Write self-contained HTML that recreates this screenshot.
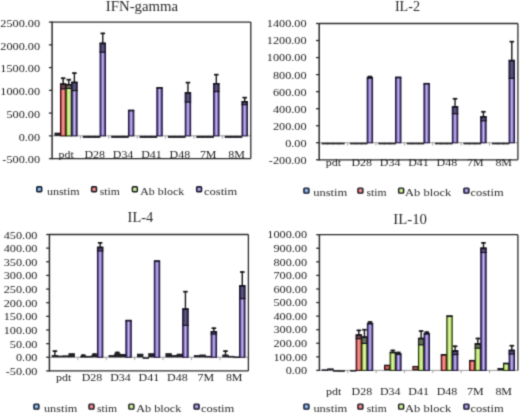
<!DOCTYPE html><html><head><meta charset="utf-8"><style>html,body{margin:0;padding:0;background:#fff;}body{width:520px;height:414px;overflow:hidden;}svg{display:block;}</style></head><body>
<svg width="520" height="414" viewBox="0 0 520 414" font-family='"Liberation Serif", serif'>
<defs>
<linearGradient id="gu" x1="0" x2="1" y1="0" y2="0"><stop offset="0" stop-color="#1a3560"/><stop offset="0.22" stop-color="#4a80c8"/><stop offset="0.5" stop-color="#b8d4f4"/><stop offset="0.78" stop-color="#4a80c8"/><stop offset="1" stop-color="#1a3560"/></linearGradient>
<radialGradient id="ru"><stop offset="0" stop-color="#b8d4f4"/><stop offset="1" stop-color="#4a80c8"/></radialGradient>
<linearGradient id="gs" x1="0" x2="1" y1="0" y2="0"><stop offset="0" stop-color="#8a2424"/><stop offset="0.22" stop-color="#d05454"/><stop offset="0.5" stop-color="#f8aca8"/><stop offset="0.78" stop-color="#d05454"/><stop offset="1" stop-color="#8a2424"/></linearGradient>
<radialGradient id="rs"><stop offset="0" stop-color="#f8aca8"/><stop offset="1" stop-color="#d05454"/></radialGradient>
<linearGradient id="ga" x1="0" x2="1" y1="0" y2="0"><stop offset="0" stop-color="#6a9028"/><stop offset="0.22" stop-color="#a8d460"/><stop offset="0.5" stop-color="#e8fcb4"/><stop offset="0.78" stop-color="#a8d460"/><stop offset="1" stop-color="#6a9028"/></linearGradient>
<radialGradient id="ra"><stop offset="0" stop-color="#e8fcb4"/><stop offset="1" stop-color="#a8d460"/></radialGradient>
<linearGradient id="gc" x1="0" x2="1" y1="0" y2="0"><stop offset="0" stop-color="#33265c"/><stop offset="0.22" stop-color="#6c58aa"/><stop offset="0.5" stop-color="#d0c4f2"/><stop offset="0.78" stop-color="#6c58aa"/><stop offset="1" stop-color="#33265c"/></linearGradient>
<radialGradient id="rc"><stop offset="0" stop-color="#d0c4f2"/><stop offset="1" stop-color="#6c58aa"/></radialGradient>
<filter id="soft" x="0" y="0" width="520" height="414" filterUnits="userSpaceOnUse" color-interpolation-filters="sRGB"><feConvolveMatrix order="3" kernelMatrix="1 4 1 4 16 4 1 4 1" divisor="36" edgeMode="duplicate"/></filter>
</defs>
<g filter="url(#soft)">
<rect width="520" height="414" fill="#fff"/>
<text x="105.80" y="10.7" font-size="14.2" textLength="72.30" lengthAdjust="spacingAndGlyphs" fill="#2a2a2a">IFN-gamma</text>
<text x="40.1" y="163.30" font-size="10.6" text-anchor="end" textLength="37.74" lengthAdjust="spacingAndGlyphs" fill="#222">-500.00</text>
<line x1="48.9" x2="52.1" y1="158.60" y2="158.60" stroke="#2b2b2b" stroke-width="1.3"/>
<text x="40.1" y="140.55" font-size="10.6" text-anchor="end" textLength="21.43" lengthAdjust="spacingAndGlyphs" fill="#222">0.00</text>
<line x1="48.9" x2="52.1" y1="135.85" y2="135.85" stroke="#2b2b2b" stroke-width="1.3"/>
<text x="40.1" y="117.80" font-size="10.6" text-anchor="end" textLength="33.67" lengthAdjust="spacingAndGlyphs" fill="#222">500.00</text>
<line x1="48.9" x2="52.1" y1="113.10" y2="113.10" stroke="#2b2b2b" stroke-width="1.3"/>
<text x="40.1" y="95.05" font-size="10.6" text-anchor="end" textLength="39.79" lengthAdjust="spacingAndGlyphs" fill="#222">1000.00</text>
<line x1="48.9" x2="52.1" y1="90.35" y2="90.35" stroke="#2b2b2b" stroke-width="1.3"/>
<text x="40.1" y="72.30" font-size="10.6" text-anchor="end" textLength="39.79" lengthAdjust="spacingAndGlyphs" fill="#222">1500.00</text>
<line x1="48.9" x2="52.1" y1="67.60" y2="67.60" stroke="#2b2b2b" stroke-width="1.3"/>
<text x="40.1" y="49.55" font-size="10.6" text-anchor="end" textLength="39.79" lengthAdjust="spacingAndGlyphs" fill="#222">2000.00</text>
<line x1="48.9" x2="52.1" y1="44.85" y2="44.85" stroke="#2b2b2b" stroke-width="1.3"/>
<text x="40.1" y="26.80" font-size="10.6" text-anchor="end" textLength="39.79" lengthAdjust="spacingAndGlyphs" fill="#222">2500.00</text>
<line x1="48.9" x2="52.1" y1="22.10" y2="22.10" stroke="#2b2b2b" stroke-width="1.3"/>
<line x1="52.1" x2="250.8" y1="135.85" y2="135.85" stroke="#9a9a9a" stroke-width="1"/>
<line x1="80.49" x2="80.49" y1="135.85" y2="138.65" stroke="#9a9a9a" stroke-width="0.9"/>
<line x1="108.87" x2="108.87" y1="135.85" y2="138.65" stroke="#9a9a9a" stroke-width="0.9"/>
<line x1="137.26" x2="137.26" y1="135.85" y2="138.65" stroke="#9a9a9a" stroke-width="0.9"/>
<line x1="165.64" x2="165.64" y1="135.85" y2="138.65" stroke="#9a9a9a" stroke-width="0.9"/>
<line x1="194.03" x2="194.03" y1="135.85" y2="138.65" stroke="#9a9a9a" stroke-width="0.9"/>
<line x1="222.41" x2="222.41" y1="135.85" y2="138.65" stroke="#9a9a9a" stroke-width="0.9"/>
<rect x="54.39" y="132.66" width="6.40" height="3.19" fill="#1e1e24"/>
<rect x="60.49" y="83.98" width="5.40" height="51.87" fill="url(#gs)" stroke="#300808" stroke-width="1.0"/>
<rect x="59.99" y="83.48" width="6.40" height="5.92" fill="#1e1a2c" fill-opacity="0.58"/>
<line x1="59.99" x2="66.39" y1="88.89" y2="88.89" stroke="#15121e" stroke-width="1.1"/>
<line x1="60.19" x2="66.19" y1="84.28" y2="84.28" stroke="#15121e" stroke-width="1.6"/>
<line x1="63.19" x2="63.19" y1="77.56" y2="83.98" stroke="#151515" stroke-width="1.4"/>
<line x1="60.89" x2="65.49" y1="78.26" y2="78.26" stroke="#151515" stroke-width="1.7"/>
<rect x="66.09" y="84.48" width="5.40" height="51.37" fill="url(#ga)" stroke="#202c08" stroke-width="1.0"/>
<rect x="65.59" y="83.98" width="6.40" height="5.00" fill="#1e1a2c" fill-opacity="0.58"/>
<line x1="65.59" x2="71.99" y1="88.48" y2="88.48" stroke="#15121e" stroke-width="1.1"/>
<line x1="65.79" x2="71.79" y1="84.78" y2="84.78" stroke="#15121e" stroke-width="1.6"/>
<line x1="68.79" x2="68.79" y1="78.97" y2="84.48" stroke="#151515" stroke-width="1.4"/>
<line x1="66.49" x2="71.09" y1="79.67" y2="79.67" stroke="#151515" stroke-width="1.7"/>
<rect x="71.69" y="82.25" width="5.40" height="53.60" fill="url(#gc)" stroke="#1a1236" stroke-width="1.0"/>
<rect x="71.19" y="81.75" width="6.40" height="9.33" fill="#1e1a2c" fill-opacity="0.58"/>
<line x1="71.19" x2="77.59" y1="90.58" y2="90.58" stroke="#15121e" stroke-width="1.1"/>
<line x1="71.39" x2="77.39" y1="82.55" y2="82.55" stroke="#15121e" stroke-width="1.6"/>
<line x1="74.39" x2="74.39" y1="72.42" y2="82.25" stroke="#151515" stroke-width="1.4"/>
<line x1="72.09" x2="76.69" y1="73.12" y2="73.12" stroke="#151515" stroke-width="1.7"/>
<rect x="82.78" y="135.85" width="6.40" height="2.05" fill="#1e1e24"/>
<rect x="88.38" y="135.85" width="6.40" height="2.05" fill="#1e1e24"/>
<rect x="93.98" y="135.85" width="6.40" height="2.05" fill="#1e1e24"/>
<rect x="100.08" y="43.21" width="5.40" height="92.64" fill="url(#gc)" stroke="#1a1236" stroke-width="1.0"/>
<rect x="99.58" y="42.71" width="6.40" height="10.01" fill="#1e1a2c" fill-opacity="0.58"/>
<line x1="99.58" x2="105.98" y1="52.22" y2="52.22" stroke="#15121e" stroke-width="1.1"/>
<line x1="99.78" x2="105.78" y1="43.51" y2="43.51" stroke="#15121e" stroke-width="1.6"/>
<line x1="102.78" x2="102.78" y1="32.70" y2="43.21" stroke="#151515" stroke-width="1.4"/>
<line x1="100.48" x2="105.08" y1="33.40" y2="33.40" stroke="#151515" stroke-width="1.7"/>
<rect x="111.16" y="135.85" width="6.40" height="2.05" fill="#1e1e24"/>
<rect x="116.76" y="135.85" width="6.40" height="2.05" fill="#1e1e24"/>
<rect x="122.36" y="135.85" width="6.40" height="2.05" fill="#1e1e24"/>
<rect x="128.46" y="110.28" width="5.40" height="25.57" fill="url(#gc)" stroke="#1a1236" stroke-width="1.0"/>
<line x1="128.16" x2="134.16" y1="110.58" y2="110.58" stroke="#15121e" stroke-width="1.6"/>
<rect x="139.55" y="135.85" width="6.40" height="2.05" fill="#1e1e24"/>
<rect x="145.15" y="135.85" width="6.40" height="2.05" fill="#1e1e24"/>
<rect x="150.75" y="135.85" width="6.40" height="2.05" fill="#1e1e24"/>
<rect x="156.85" y="87.66" width="5.40" height="48.19" fill="url(#gc)" stroke="#1a1236" stroke-width="1.0"/>
<line x1="156.55" x2="162.55" y1="87.96" y2="87.96" stroke="#15121e" stroke-width="1.6"/>
<rect x="167.94" y="135.85" width="6.40" height="2.05" fill="#1e1e24"/>
<rect x="173.54" y="135.85" width="6.40" height="2.05" fill="#1e1e24"/>
<rect x="179.14" y="135.85" width="6.40" height="2.05" fill="#1e1e24"/>
<rect x="185.24" y="92.72" width="5.40" height="43.13" fill="url(#gc)" stroke="#1a1236" stroke-width="1.0"/>
<rect x="184.74" y="92.22" width="6.40" height="10.33" fill="#1e1a2c" fill-opacity="0.58"/>
<line x1="184.74" x2="191.14" y1="102.04" y2="102.04" stroke="#15121e" stroke-width="1.1"/>
<line x1="184.94" x2="190.94" y1="93.02" y2="93.02" stroke="#15121e" stroke-width="1.6"/>
<line x1="187.94" x2="187.94" y1="81.89" y2="92.72" stroke="#151515" stroke-width="1.4"/>
<line x1="185.64" x2="190.24" y1="82.59" y2="82.59" stroke="#151515" stroke-width="1.7"/>
<rect x="196.32" y="135.85" width="6.40" height="2.05" fill="#1e1e24"/>
<rect x="201.92" y="135.85" width="6.40" height="2.05" fill="#1e1e24"/>
<rect x="207.52" y="135.85" width="6.40" height="2.05" fill="#1e1e24"/>
<rect x="213.62" y="83.52" width="5.40" height="52.33" fill="url(#gc)" stroke="#1a1236" stroke-width="1.0"/>
<rect x="213.12" y="83.02" width="6.40" height="9.05" fill="#1e1a2c" fill-opacity="0.58"/>
<line x1="213.12" x2="219.52" y1="91.58" y2="91.58" stroke="#15121e" stroke-width="1.1"/>
<line x1="213.32" x2="219.32" y1="83.82" y2="83.82" stroke="#15121e" stroke-width="1.6"/>
<line x1="216.32" x2="216.32" y1="73.97" y2="83.52" stroke="#151515" stroke-width="1.4"/>
<line x1="214.02" x2="218.62" y1="74.67" y2="74.67" stroke="#151515" stroke-width="1.7"/>
<rect x="224.71" y="135.85" width="6.40" height="2.05" fill="#1e1e24"/>
<rect x="230.31" y="135.85" width="6.40" height="2.05" fill="#1e1e24"/>
<rect x="235.91" y="135.85" width="6.40" height="2.05" fill="#1e1e24"/>
<rect x="242.01" y="101.54" width="5.40" height="34.31" fill="url(#gc)" stroke="#1a1236" stroke-width="1.0"/>
<rect x="241.51" y="101.04" width="6.40" height="4.09" fill="#1e1a2c" fill-opacity="0.58"/>
<line x1="241.51" x2="247.91" y1="104.64" y2="104.64" stroke="#15121e" stroke-width="1.1"/>
<line x1="241.71" x2="247.71" y1="101.84" y2="101.84" stroke="#15121e" stroke-width="1.6"/>
<line x1="244.71" x2="244.71" y1="96.95" y2="101.54" stroke="#151515" stroke-width="1.4"/>
<line x1="242.41" x2="247.01" y1="97.65" y2="97.65" stroke="#151515" stroke-width="1.7"/>
<line x1="52.1" x2="52.1" y1="21.5" y2="159.2" stroke="#2b2b2b" stroke-width="1.5"/>
<line x1="52.1" x2="250.8" y1="22.1" y2="22.1" stroke="#2b2b2b" stroke-width="1.3"/>
<line x1="250.8" x2="250.8" y1="22.1" y2="158.6" stroke="#2b2b2b" stroke-width="1.3"/>
<line x1="52.1" x2="250.8" y1="158.6" y2="158.6" stroke="#2b2b2b" stroke-width="1.3"/>
<text x="66.29" y="158.0" font-size="10.5" text-anchor="middle" textLength="15.30" lengthAdjust="spacingAndGlyphs" fill="#222">pdt</text>
<text x="94.68" y="158.0" font-size="10.5" text-anchor="middle" textLength="20.61" lengthAdjust="spacingAndGlyphs" fill="#222">D28</text>
<text x="123.06" y="158.0" font-size="10.5" text-anchor="middle" textLength="20.61" lengthAdjust="spacingAndGlyphs" fill="#222">D34</text>
<text x="151.45" y="158.0" font-size="10.5" text-anchor="middle" textLength="20.61" lengthAdjust="spacingAndGlyphs" fill="#222">D41</text>
<text x="179.84" y="158.0" font-size="10.5" text-anchor="middle" textLength="20.61" lengthAdjust="spacingAndGlyphs" fill="#222">D48</text>
<text x="208.22" y="158.0" font-size="10.5" text-anchor="middle" textLength="16.63" lengthAdjust="spacingAndGlyphs" fill="#222">7M</text>
<text x="236.61" y="158.0" font-size="10.5" text-anchor="middle" textLength="16.63" lengthAdjust="spacingAndGlyphs" fill="#222">8M</text>
<rect x="36.75" y="186.75" width="5.0" height="5.0" rx="0.9" fill="url(#ru)" stroke="#141826" stroke-width="1.4"/>
<text x="46.90" y="194.5" font-size="11" textLength="32.70" lengthAdjust="spacingAndGlyphs" fill="#2a2a2a">unstim</text>
<rect x="91.55" y="186.75" width="5.0" height="5.0" rx="0.9" fill="url(#rs)" stroke="#141826" stroke-width="1.4"/>
<text x="99.80" y="194.5" font-size="11" textLength="20.00" lengthAdjust="spacingAndGlyphs" fill="#2a2a2a">stim</text>
<rect x="132.35" y="186.75" width="5.0" height="5.0" rx="0.9" fill="url(#ra)" stroke="#141826" stroke-width="1.4"/>
<text x="140.20" y="194.5" font-size="11" textLength="44.00" lengthAdjust="spacingAndGlyphs" fill="#2a2a2a">Ab block</text>
<rect x="196.60" y="186.75" width="5.0" height="5.0" rx="0.9" fill="url(#rc)" stroke="#141826" stroke-width="1.4"/>
<text x="204.00" y="194.5" font-size="11" textLength="33.30" lengthAdjust="spacingAndGlyphs" fill="#2a2a2a">costim</text>
<text x="394.90" y="10.7" font-size="14.2" textLength="25.20" lengthAdjust="spacingAndGlyphs" fill="#2a2a2a">IL-2</text>
<text x="306.6" y="163.70" font-size="10.6" text-anchor="end" textLength="37.74" lengthAdjust="spacingAndGlyphs" fill="#222">-200.00</text>
<line x1="316.0" x2="319.2" y1="159.80" y2="159.80" stroke="#2b2b2b" stroke-width="1.3"/>
<text x="306.6" y="146.66" font-size="10.6" text-anchor="end" textLength="21.43" lengthAdjust="spacingAndGlyphs" fill="#222">0.00</text>
<line x1="316.0" x2="319.2" y1="142.76" y2="142.76" stroke="#2b2b2b" stroke-width="1.3"/>
<text x="306.6" y="129.63" font-size="10.6" text-anchor="end" textLength="33.67" lengthAdjust="spacingAndGlyphs" fill="#222">200.00</text>
<line x1="316.0" x2="319.2" y1="125.73" y2="125.73" stroke="#2b2b2b" stroke-width="1.3"/>
<text x="306.6" y="112.59" font-size="10.6" text-anchor="end" textLength="33.67" lengthAdjust="spacingAndGlyphs" fill="#222">400.00</text>
<line x1="316.0" x2="319.2" y1="108.69" y2="108.69" stroke="#2b2b2b" stroke-width="1.3"/>
<text x="306.6" y="95.55" font-size="10.6" text-anchor="end" textLength="33.67" lengthAdjust="spacingAndGlyphs" fill="#222">600.00</text>
<line x1="316.0" x2="319.2" y1="91.65" y2="91.65" stroke="#2b2b2b" stroke-width="1.3"/>
<text x="306.6" y="78.51" font-size="10.6" text-anchor="end" textLength="33.67" lengthAdjust="spacingAndGlyphs" fill="#222">800.00</text>
<line x1="316.0" x2="319.2" y1="74.61" y2="74.61" stroke="#2b2b2b" stroke-width="1.3"/>
<text x="306.6" y="61.48" font-size="10.6" text-anchor="end" textLength="39.79" lengthAdjust="spacingAndGlyphs" fill="#222">1000.00</text>
<line x1="316.0" x2="319.2" y1="57.58" y2="57.58" stroke="#2b2b2b" stroke-width="1.3"/>
<text x="306.6" y="44.44" font-size="10.6" text-anchor="end" textLength="39.79" lengthAdjust="spacingAndGlyphs" fill="#222">1200.00</text>
<line x1="316.0" x2="319.2" y1="40.54" y2="40.54" stroke="#2b2b2b" stroke-width="1.3"/>
<text x="306.6" y="27.40" font-size="10.6" text-anchor="end" textLength="39.79" lengthAdjust="spacingAndGlyphs" fill="#222">1400.00</text>
<line x1="316.0" x2="319.2" y1="23.50" y2="23.50" stroke="#2b2b2b" stroke-width="1.3"/>
<line x1="319.2" x2="517.9" y1="142.76" y2="142.76" stroke="#9a9a9a" stroke-width="1"/>
<line x1="347.59" x2="347.59" y1="142.76" y2="145.56" stroke="#9a9a9a" stroke-width="0.9"/>
<line x1="375.97" x2="375.97" y1="142.76" y2="145.56" stroke="#9a9a9a" stroke-width="0.9"/>
<line x1="404.36" x2="404.36" y1="142.76" y2="145.56" stroke="#9a9a9a" stroke-width="0.9"/>
<line x1="432.74" x2="432.74" y1="142.76" y2="145.56" stroke="#9a9a9a" stroke-width="0.9"/>
<line x1="461.13" x2="461.13" y1="142.76" y2="145.56" stroke="#9a9a9a" stroke-width="0.9"/>
<line x1="489.51" x2="489.51" y1="142.76" y2="145.56" stroke="#9a9a9a" stroke-width="0.9"/>
<rect x="321.49" y="142.76" width="6.40" height="1.60" fill="#1e1e24"/>
<rect x="327.09" y="142.76" width="6.40" height="1.60" fill="#1e1e24"/>
<rect x="332.69" y="142.76" width="6.40" height="1.60" fill="#1e1e24"/>
<rect x="338.29" y="142.76" width="6.40" height="1.60" fill="#1e1e24"/>
<rect x="349.88" y="142.76" width="6.40" height="1.60" fill="#1e1e24"/>
<rect x="355.48" y="142.76" width="6.40" height="1.60" fill="#1e1e24"/>
<rect x="361.08" y="142.76" width="6.40" height="1.60" fill="#1e1e24"/>
<rect x="367.18" y="77.67" width="5.40" height="65.09" fill="url(#gc)" stroke="#1a1236" stroke-width="1.0"/>
<line x1="366.88" x2="372.88" y1="77.97" y2="77.97" stroke="#15121e" stroke-width="1.6"/>
<line x1="369.88" x2="369.88" y1="75.89" y2="77.67" stroke="#151515" stroke-width="1.4"/>
<line x1="367.58" x2="372.18" y1="76.59" y2="76.59" stroke="#151515" stroke-width="1.7"/>
<rect x="378.26" y="142.76" width="6.40" height="1.60" fill="#1e1e24"/>
<rect x="383.86" y="142.76" width="6.40" height="1.60" fill="#1e1e24"/>
<rect x="389.46" y="142.76" width="6.40" height="1.60" fill="#1e1e24"/>
<rect x="395.56" y="77.24" width="5.40" height="65.52" fill="url(#gc)" stroke="#1a1236" stroke-width="1.0"/>
<line x1="395.26" x2="401.26" y1="77.54" y2="77.54" stroke="#15121e" stroke-width="1.6"/>
<rect x="406.65" y="142.76" width="6.40" height="1.60" fill="#1e1e24"/>
<rect x="412.25" y="142.76" width="6.40" height="1.60" fill="#1e1e24"/>
<rect x="417.85" y="142.76" width="6.40" height="1.60" fill="#1e1e24"/>
<rect x="423.95" y="83.46" width="5.40" height="59.30" fill="url(#gc)" stroke="#1a1236" stroke-width="1.0"/>
<line x1="423.65" x2="429.65" y1="83.76" y2="83.76" stroke="#15121e" stroke-width="1.6"/>
<rect x="435.04" y="142.76" width="6.40" height="1.60" fill="#1e1e24"/>
<rect x="440.64" y="142.76" width="6.40" height="1.60" fill="#1e1e24"/>
<rect x="446.24" y="142.76" width="6.40" height="1.60" fill="#1e1e24"/>
<rect x="452.34" y="106.63" width="5.40" height="36.13" fill="url(#gc)" stroke="#1a1236" stroke-width="1.0"/>
<rect x="451.84" y="106.13" width="6.40" height="8.09" fill="#1e1a2c" fill-opacity="0.58"/>
<line x1="451.84" x2="458.24" y1="113.72" y2="113.72" stroke="#15121e" stroke-width="1.1"/>
<line x1="452.04" x2="458.04" y1="106.93" y2="106.93" stroke="#15121e" stroke-width="1.6"/>
<line x1="455.04" x2="455.04" y1="98.04" y2="106.63" stroke="#151515" stroke-width="1.4"/>
<line x1="452.74" x2="457.34" y1="98.74" y2="98.74" stroke="#151515" stroke-width="1.7"/>
<rect x="463.42" y="142.76" width="6.40" height="1.60" fill="#1e1e24"/>
<rect x="469.02" y="142.76" width="6.40" height="1.60" fill="#1e1e24"/>
<rect x="474.62" y="142.76" width="6.40" height="1.60" fill="#1e1e24"/>
<rect x="480.72" y="116.68" width="5.40" height="26.08" fill="url(#gc)" stroke="#1a1236" stroke-width="1.0"/>
<rect x="480.22" y="116.18" width="6.40" height="5.11" fill="#1e1a2c" fill-opacity="0.58"/>
<line x1="480.22" x2="486.62" y1="120.80" y2="120.80" stroke="#15121e" stroke-width="1.1"/>
<line x1="480.42" x2="486.42" y1="116.98" y2="116.98" stroke="#15121e" stroke-width="1.6"/>
<line x1="483.42" x2="483.42" y1="111.07" y2="116.68" stroke="#151515" stroke-width="1.4"/>
<line x1="481.12" x2="485.72" y1="111.77" y2="111.77" stroke="#151515" stroke-width="1.7"/>
<rect x="491.81" y="142.76" width="6.40" height="1.60" fill="#1e1e24"/>
<rect x="497.41" y="142.76" width="6.40" height="1.60" fill="#1e1e24"/>
<rect x="503.01" y="142.76" width="6.40" height="1.60" fill="#1e1e24"/>
<rect x="509.11" y="60.38" width="5.40" height="82.39" fill="url(#gc)" stroke="#1a1236" stroke-width="1.0"/>
<rect x="508.61" y="59.88" width="6.40" height="18.91" fill="#1e1a2c" fill-opacity="0.58"/>
<line x1="508.61" x2="515.01" y1="78.29" y2="78.29" stroke="#15121e" stroke-width="1.1"/>
<line x1="508.81" x2="514.81" y1="60.68" y2="60.68" stroke="#15121e" stroke-width="1.6"/>
<line x1="511.81" x2="511.81" y1="40.96" y2="60.38" stroke="#151515" stroke-width="1.4"/>
<line x1="509.51" x2="514.11" y1="41.66" y2="41.66" stroke="#151515" stroke-width="1.7"/>
<line x1="319.2" x2="319.2" y1="22.9" y2="160.4" stroke="#2b2b2b" stroke-width="1.5"/>
<line x1="319.2" x2="517.9" y1="23.5" y2="23.5" stroke="#2b2b2b" stroke-width="1.3"/>
<line x1="517.9" x2="517.9" y1="23.5" y2="159.8" stroke="#2b2b2b" stroke-width="1.3"/>
<line x1="319.2" x2="517.9" y1="159.8" y2="159.8" stroke="#2b2b2b" stroke-width="1.3"/>
<text x="333.39" y="166.4" font-size="10.5" text-anchor="middle" textLength="15.30" lengthAdjust="spacingAndGlyphs" fill="#222">pdt</text>
<text x="361.78" y="166.4" font-size="10.5" text-anchor="middle" textLength="20.61" lengthAdjust="spacingAndGlyphs" fill="#222">D28</text>
<text x="390.16" y="166.4" font-size="10.5" text-anchor="middle" textLength="20.61" lengthAdjust="spacingAndGlyphs" fill="#222">D34</text>
<text x="418.55" y="166.4" font-size="10.5" text-anchor="middle" textLength="20.61" lengthAdjust="spacingAndGlyphs" fill="#222">D41</text>
<text x="446.94" y="166.4" font-size="10.5" text-anchor="middle" textLength="20.61" lengthAdjust="spacingAndGlyphs" fill="#222">D48</text>
<text x="475.32" y="166.4" font-size="10.5" text-anchor="middle" textLength="16.63" lengthAdjust="spacingAndGlyphs" fill="#222">7M</text>
<text x="503.71" y="166.4" font-size="10.5" text-anchor="middle" textLength="16.63" lengthAdjust="spacingAndGlyphs" fill="#222">8M</text>
<rect x="303.90" y="188.15" width="5.0" height="5.0" rx="0.9" fill="url(#ru)" stroke="#141826" stroke-width="1.4"/>
<text x="313.20" y="195.6" font-size="11" textLength="34.10" lengthAdjust="spacingAndGlyphs" fill="#2a2a2a">unstim</text>
<rect x="357.90" y="188.15" width="5.0" height="5.0" rx="0.9" fill="url(#rs)" stroke="#141826" stroke-width="1.4"/>
<text x="366.60" y="195.6" font-size="11" textLength="20.00" lengthAdjust="spacingAndGlyphs" fill="#2a2a2a">stim</text>
<rect x="398.65" y="188.15" width="5.0" height="5.0" rx="0.9" fill="url(#ra)" stroke="#141826" stroke-width="1.4"/>
<text x="405.10" y="195.6" font-size="11" textLength="46.10" lengthAdjust="spacingAndGlyphs" fill="#2a2a2a">Ab block</text>
<rect x="463.90" y="188.15" width="5.0" height="5.0" rx="0.9" fill="url(#rc)" stroke="#141826" stroke-width="1.4"/>
<text x="470.40" y="195.6" font-size="11" textLength="33.20" lengthAdjust="spacingAndGlyphs" fill="#2a2a2a">costim</text>
<text x="127.60" y="221.7" font-size="14.2" textLength="25.60" lengthAdjust="spacingAndGlyphs" fill="#2a2a2a">IL-4</text>
<text x="37.4" y="374.90" font-size="10.6" text-anchor="end" textLength="31.62" lengthAdjust="spacingAndGlyphs" fill="#222">-50.00</text>
<line x1="46.199999999999996" x2="49.4" y1="370.90" y2="370.90" stroke="#2b2b2b" stroke-width="1.3"/>
<text x="37.4" y="361.26" font-size="10.6" text-anchor="end" textLength="21.43" lengthAdjust="spacingAndGlyphs" fill="#222">0.00</text>
<line x1="46.199999999999996" x2="49.4" y1="357.26" y2="357.26" stroke="#2b2b2b" stroke-width="1.3"/>
<text x="37.4" y="347.62" font-size="10.6" text-anchor="end" textLength="27.55" lengthAdjust="spacingAndGlyphs" fill="#222">50.00</text>
<line x1="46.199999999999996" x2="49.4" y1="343.62" y2="343.62" stroke="#2b2b2b" stroke-width="1.3"/>
<text x="37.4" y="333.98" font-size="10.6" text-anchor="end" textLength="33.67" lengthAdjust="spacingAndGlyphs" fill="#222">100.00</text>
<line x1="46.199999999999996" x2="49.4" y1="329.98" y2="329.98" stroke="#2b2b2b" stroke-width="1.3"/>
<text x="37.4" y="320.34" font-size="10.6" text-anchor="end" textLength="33.67" lengthAdjust="spacingAndGlyphs" fill="#222">150.00</text>
<line x1="46.199999999999996" x2="49.4" y1="316.34" y2="316.34" stroke="#2b2b2b" stroke-width="1.3"/>
<text x="37.4" y="306.70" font-size="10.6" text-anchor="end" textLength="33.67" lengthAdjust="spacingAndGlyphs" fill="#222">200.00</text>
<line x1="46.199999999999996" x2="49.4" y1="302.70" y2="302.70" stroke="#2b2b2b" stroke-width="1.3"/>
<text x="37.4" y="293.06" font-size="10.6" text-anchor="end" textLength="33.67" lengthAdjust="spacingAndGlyphs" fill="#222">250.00</text>
<line x1="46.199999999999996" x2="49.4" y1="289.06" y2="289.06" stroke="#2b2b2b" stroke-width="1.3"/>
<text x="37.4" y="279.42" font-size="10.6" text-anchor="end" textLength="33.67" lengthAdjust="spacingAndGlyphs" fill="#222">300.00</text>
<line x1="46.199999999999996" x2="49.4" y1="275.42" y2="275.42" stroke="#2b2b2b" stroke-width="1.3"/>
<text x="37.4" y="265.78" font-size="10.6" text-anchor="end" textLength="33.67" lengthAdjust="spacingAndGlyphs" fill="#222">350.00</text>
<line x1="46.199999999999996" x2="49.4" y1="261.78" y2="261.78" stroke="#2b2b2b" stroke-width="1.3"/>
<text x="37.4" y="252.14" font-size="10.6" text-anchor="end" textLength="33.67" lengthAdjust="spacingAndGlyphs" fill="#222">400.00</text>
<line x1="46.199999999999996" x2="49.4" y1="248.14" y2="248.14" stroke="#2b2b2b" stroke-width="1.3"/>
<text x="37.4" y="238.50" font-size="10.6" text-anchor="end" textLength="33.67" lengthAdjust="spacingAndGlyphs" fill="#222">450.00</text>
<line x1="46.199999999999996" x2="49.4" y1="234.50" y2="234.50" stroke="#2b2b2b" stroke-width="1.3"/>
<line x1="49.4" x2="248.4" y1="357.26" y2="357.26" stroke="#9a9a9a" stroke-width="1"/>
<line x1="77.83" x2="77.83" y1="357.26" y2="360.06" stroke="#9a9a9a" stroke-width="0.9"/>
<line x1="106.26" x2="106.26" y1="357.26" y2="360.06" stroke="#9a9a9a" stroke-width="0.9"/>
<line x1="134.69" x2="134.69" y1="357.26" y2="360.06" stroke="#9a9a9a" stroke-width="0.9"/>
<line x1="163.11" x2="163.11" y1="357.26" y2="360.06" stroke="#9a9a9a" stroke-width="0.9"/>
<line x1="191.54" x2="191.54" y1="357.26" y2="360.06" stroke="#9a9a9a" stroke-width="0.9"/>
<line x1="219.97" x2="219.97" y1="357.26" y2="360.06" stroke="#9a9a9a" stroke-width="0.9"/>
<rect x="51.71" y="355.08" width="6.40" height="2.18" fill="#1e1e24"/>
<line x1="54.91" x2="54.91" y1="350.44" y2="355.58" stroke="#151515" stroke-width="1.4"/>
<line x1="52.61" x2="57.21" y1="351.14" y2="351.14" stroke="#151515" stroke-width="1.7"/>
<rect x="57.31" y="355.62" width="6.40" height="1.64" fill="#1e1e24"/>
<rect x="62.91" y="355.35" width="6.40" height="1.91" fill="#1e1e24"/>
<rect x="68.51" y="353.17" width="6.40" height="4.09" fill="#1e1e24"/>
<rect x="80.14" y="355.90" width="6.40" height="1.60" fill="#1e1e24"/>
<line x1="83.34" x2="83.34" y1="354.53" y2="356.40" stroke="#151515" stroke-width="1.4"/>
<line x1="81.04" x2="85.64" y1="355.23" y2="355.23" stroke="#151515" stroke-width="1.7"/>
<rect x="85.74" y="355.90" width="6.40" height="1.60" fill="#1e1e24"/>
<rect x="91.34" y="354.80" width="6.40" height="2.46" fill="#1e1e24"/>
<line x1="94.54" x2="94.54" y1="353.44" y2="355.30" stroke="#151515" stroke-width="1.4"/>
<line x1="92.24" x2="96.84" y1="354.14" y2="354.14" stroke="#151515" stroke-width="1.7"/>
<rect x="97.44" y="247.28" width="5.40" height="109.98" fill="url(#gc)" stroke="#1a1236" stroke-width="1.0"/>
<rect x="96.94" y="246.78" width="6.40" height="4.64" fill="#1e1a2c" fill-opacity="0.58"/>
<line x1="96.94" x2="103.34" y1="250.91" y2="250.91" stroke="#15121e" stroke-width="1.1"/>
<line x1="97.14" x2="103.14" y1="247.58" y2="247.58" stroke="#15121e" stroke-width="1.6"/>
<line x1="100.14" x2="100.14" y1="242.14" y2="247.28" stroke="#151515" stroke-width="1.4"/>
<line x1="97.84" x2="102.44" y1="242.84" y2="242.84" stroke="#151515" stroke-width="1.7"/>
<rect x="108.57" y="355.08" width="6.40" height="2.18" fill="#1e1e24"/>
<rect x="114.17" y="353.17" width="6.40" height="4.09" fill="#1e1e24"/>
<line x1="117.37" x2="117.37" y1="351.80" y2="353.67" stroke="#151515" stroke-width="1.4"/>
<line x1="115.07" x2="119.67" y1="352.50" y2="352.50" stroke="#151515" stroke-width="1.7"/>
<rect x="119.77" y="353.99" width="6.40" height="3.27" fill="#1e1e24"/>
<rect x="125.87" y="320.39" width="5.40" height="36.87" fill="url(#gc)" stroke="#1a1236" stroke-width="1.0"/>
<line x1="125.57" x2="131.57" y1="320.69" y2="320.69" stroke="#15121e" stroke-width="1.6"/>
<rect x="137.00" y="353.71" width="6.40" height="3.55" fill="#1e1e24"/>
<rect x="142.60" y="357.26" width="6.40" height="1.60" fill="#1e1e24"/>
<rect x="148.20" y="353.17" width="6.40" height="4.09" fill="#1e1e24"/>
<rect x="154.30" y="260.92" width="5.40" height="96.34" fill="url(#gc)" stroke="#1a1236" stroke-width="1.0"/>
<line x1="154.00" x2="160.00" y1="261.22" y2="261.22" stroke="#15121e" stroke-width="1.6"/>
<rect x="165.43" y="353.17" width="6.40" height="4.09" fill="#1e1e24"/>
<rect x="171.03" y="355.08" width="6.40" height="2.18" fill="#1e1e24"/>
<rect x="176.63" y="353.71" width="6.40" height="3.55" fill="#1e1e24"/>
<rect x="182.73" y="308.93" width="5.40" height="48.33" fill="url(#gc)" stroke="#1a1236" stroke-width="1.0"/>
<rect x="182.23" y="308.43" width="6.40" height="17.46" fill="#1e1a2c" fill-opacity="0.58"/>
<line x1="182.23" x2="188.63" y1="325.39" y2="325.39" stroke="#15121e" stroke-width="1.1"/>
<line x1="182.43" x2="188.43" y1="309.23" y2="309.23" stroke="#15121e" stroke-width="1.6"/>
<line x1="185.43" x2="185.43" y1="290.97" y2="308.93" stroke="#151515" stroke-width="1.4"/>
<line x1="183.13" x2="187.73" y1="291.67" y2="291.67" stroke="#151515" stroke-width="1.7"/>
<rect x="193.86" y="355.08" width="6.40" height="2.18" fill="#1e1e24"/>
<rect x="199.46" y="354.53" width="6.40" height="2.73" fill="#1e1e24"/>
<rect x="205.06" y="355.90" width="6.40" height="1.60" fill="#1e1e24"/>
<rect x="211.16" y="331.57" width="5.40" height="25.69" fill="url(#gc)" stroke="#1a1236" stroke-width="1.0"/>
<rect x="210.66" y="331.07" width="6.40" height="3.55" fill="#1e1a2c" fill-opacity="0.58"/>
<line x1="210.66" x2="217.06" y1="334.12" y2="334.12" stroke="#15121e" stroke-width="1.1"/>
<line x1="210.86" x2="216.86" y1="331.87" y2="331.87" stroke="#15121e" stroke-width="1.6"/>
<line x1="213.86" x2="213.86" y1="327.52" y2="331.57" stroke="#151515" stroke-width="1.4"/>
<line x1="211.56" x2="216.16" y1="328.22" y2="328.22" stroke="#151515" stroke-width="1.7"/>
<rect x="222.29" y="354.53" width="6.40" height="2.73" fill="#1e1e24"/>
<line x1="225.49" x2="225.49" y1="350.44" y2="355.03" stroke="#151515" stroke-width="1.4"/>
<line x1="223.19" x2="227.79" y1="351.14" y2="351.14" stroke="#151515" stroke-width="1.7"/>
<rect x="227.89" y="355.90" width="6.40" height="1.60" fill="#1e1e24"/>
<rect x="233.49" y="356.44" width="6.40" height="1.60" fill="#1e1e24"/>
<rect x="239.59" y="285.74" width="5.40" height="71.52" fill="url(#gc)" stroke="#1a1236" stroke-width="1.0"/>
<rect x="239.09" y="285.24" width="6.40" height="13.91" fill="#1e1a2c" fill-opacity="0.58"/>
<line x1="239.09" x2="245.49" y1="298.65" y2="298.65" stroke="#15121e" stroke-width="1.1"/>
<line x1="239.29" x2="245.29" y1="286.04" y2="286.04" stroke="#15121e" stroke-width="1.6"/>
<line x1="242.29" x2="242.29" y1="271.33" y2="285.74" stroke="#151515" stroke-width="1.4"/>
<line x1="239.99" x2="244.59" y1="272.03" y2="272.03" stroke="#151515" stroke-width="1.7"/>
<line x1="49.4" x2="49.4" y1="233.9" y2="371.5" stroke="#2b2b2b" stroke-width="1.5"/>
<line x1="49.4" x2="248.4" y1="234.5" y2="234.5" stroke="#2b2b2b" stroke-width="1.3"/>
<line x1="248.4" x2="248.4" y1="234.5" y2="370.9" stroke="#2b2b2b" stroke-width="1.3"/>
<line x1="49.4" x2="248.4" y1="370.9" y2="370.9" stroke="#2b2b2b" stroke-width="1.3"/>
<text x="63.61" y="380.6" font-size="10.5" text-anchor="middle" textLength="15.30" lengthAdjust="spacingAndGlyphs" fill="#222">pdt</text>
<text x="92.04" y="380.6" font-size="10.5" text-anchor="middle" textLength="20.61" lengthAdjust="spacingAndGlyphs" fill="#222">D28</text>
<text x="120.47" y="380.6" font-size="10.5" text-anchor="middle" textLength="20.61" lengthAdjust="spacingAndGlyphs" fill="#222">D34</text>
<text x="148.90" y="380.6" font-size="10.5" text-anchor="middle" textLength="20.61" lengthAdjust="spacingAndGlyphs" fill="#222">D41</text>
<text x="177.33" y="380.6" font-size="10.5" text-anchor="middle" textLength="20.61" lengthAdjust="spacingAndGlyphs" fill="#222">D48</text>
<text x="205.76" y="380.6" font-size="10.5" text-anchor="middle" textLength="16.63" lengthAdjust="spacingAndGlyphs" fill="#222">7M</text>
<text x="234.19" y="380.6" font-size="10.5" text-anchor="middle" textLength="16.63" lengthAdjust="spacingAndGlyphs" fill="#222">8M</text>
<rect x="33.90" y="404.15" width="5.0" height="5.0" rx="0.9" fill="url(#ru)" stroke="#141826" stroke-width="1.4"/>
<text x="44.00" y="411.8" font-size="11" textLength="33.30" lengthAdjust="spacingAndGlyphs" fill="#2a2a2a">unstim</text>
<rect x="89.00" y="404.15" width="5.0" height="5.0" rx="0.9" fill="url(#rs)" stroke="#141826" stroke-width="1.4"/>
<text x="96.90" y="411.8" font-size="11" textLength="20.10" lengthAdjust="spacingAndGlyphs" fill="#2a2a2a">stim</text>
<rect x="128.90" y="404.15" width="5.0" height="5.0" rx="0.9" fill="url(#ra)" stroke="#141826" stroke-width="1.4"/>
<text x="136.30" y="411.8" font-size="11" textLength="45.10" lengthAdjust="spacingAndGlyphs" fill="#2a2a2a">Ab block</text>
<rect x="194.10" y="404.15" width="5.0" height="5.0" rx="0.9" fill="url(#rc)" stroke="#141826" stroke-width="1.4"/>
<text x="200.90" y="411.8" font-size="11" textLength="33.50" lengthAdjust="spacingAndGlyphs" fill="#2a2a2a">costim</text>
<text x="393.30" y="223.9" font-size="14.2" textLength="33.70" lengthAdjust="spacingAndGlyphs" fill="#2a2a2a">IL-10</text>
<text x="307.1" y="374.10" font-size="10.6" text-anchor="end" textLength="21.43" lengthAdjust="spacingAndGlyphs" fill="#222">0.00</text>
<line x1="316.2" x2="319.4" y1="370.40" y2="370.40" stroke="#2b2b2b" stroke-width="1.3"/>
<text x="307.1" y="360.53" font-size="10.6" text-anchor="end" textLength="33.67" lengthAdjust="spacingAndGlyphs" fill="#222">100.00</text>
<line x1="316.2" x2="319.4" y1="356.83" y2="356.83" stroke="#2b2b2b" stroke-width="1.3"/>
<text x="307.1" y="346.96" font-size="10.6" text-anchor="end" textLength="33.67" lengthAdjust="spacingAndGlyphs" fill="#222">200.00</text>
<line x1="316.2" x2="319.4" y1="343.26" y2="343.26" stroke="#2b2b2b" stroke-width="1.3"/>
<text x="307.1" y="333.39" font-size="10.6" text-anchor="end" textLength="33.67" lengthAdjust="spacingAndGlyphs" fill="#222">300.00</text>
<line x1="316.2" x2="319.4" y1="329.69" y2="329.69" stroke="#2b2b2b" stroke-width="1.3"/>
<text x="307.1" y="319.82" font-size="10.6" text-anchor="end" textLength="33.67" lengthAdjust="spacingAndGlyphs" fill="#222">400.00</text>
<line x1="316.2" x2="319.4" y1="316.12" y2="316.12" stroke="#2b2b2b" stroke-width="1.3"/>
<text x="307.1" y="306.25" font-size="10.6" text-anchor="end" textLength="33.67" lengthAdjust="spacingAndGlyphs" fill="#222">500.00</text>
<line x1="316.2" x2="319.4" y1="302.55" y2="302.55" stroke="#2b2b2b" stroke-width="1.3"/>
<text x="307.1" y="292.68" font-size="10.6" text-anchor="end" textLength="33.67" lengthAdjust="spacingAndGlyphs" fill="#222">600.00</text>
<line x1="316.2" x2="319.4" y1="288.98" y2="288.98" stroke="#2b2b2b" stroke-width="1.3"/>
<text x="307.1" y="279.11" font-size="10.6" text-anchor="end" textLength="33.67" lengthAdjust="spacingAndGlyphs" fill="#222">700.00</text>
<line x1="316.2" x2="319.4" y1="275.41" y2="275.41" stroke="#2b2b2b" stroke-width="1.3"/>
<text x="307.1" y="265.54" font-size="10.6" text-anchor="end" textLength="33.67" lengthAdjust="spacingAndGlyphs" fill="#222">800.00</text>
<line x1="316.2" x2="319.4" y1="261.84" y2="261.84" stroke="#2b2b2b" stroke-width="1.3"/>
<text x="307.1" y="251.97" font-size="10.6" text-anchor="end" textLength="33.67" lengthAdjust="spacingAndGlyphs" fill="#222">900.00</text>
<line x1="316.2" x2="319.4" y1="248.27" y2="248.27" stroke="#2b2b2b" stroke-width="1.3"/>
<text x="307.1" y="238.40" font-size="10.6" text-anchor="end" textLength="39.79" lengthAdjust="spacingAndGlyphs" fill="#222">1000.00</text>
<line x1="316.2" x2="319.4" y1="234.70" y2="234.70" stroke="#2b2b2b" stroke-width="1.3"/>
<line x1="319.4" x2="517.9" y1="370.40" y2="370.40" stroke="#9a9a9a" stroke-width="1"/>
<line x1="347.76" x2="347.76" y1="370.40" y2="373.20" stroke="#9a9a9a" stroke-width="0.9"/>
<line x1="376.11" x2="376.11" y1="370.40" y2="373.20" stroke="#9a9a9a" stroke-width="0.9"/>
<line x1="404.47" x2="404.47" y1="370.40" y2="373.20" stroke="#9a9a9a" stroke-width="0.9"/>
<line x1="432.83" x2="432.83" y1="370.40" y2="373.20" stroke="#9a9a9a" stroke-width="0.9"/>
<line x1="461.19" x2="461.19" y1="370.40" y2="373.20" stroke="#9a9a9a" stroke-width="0.9"/>
<line x1="489.54" x2="489.54" y1="370.40" y2="373.20" stroke="#9a9a9a" stroke-width="0.9"/>
<rect x="321.68" y="369.31" width="6.40" height="1.60" fill="#1e1e24"/>
<rect x="327.28" y="368.36" width="6.40" height="2.04" fill="#1e1e24"/>
<rect x="332.88" y="370.13" width="6.40" height="1.60" fill="#1e1e24"/>
<rect x="338.48" y="370.26" width="6.40" height="1.60" fill="#1e1e24"/>
<rect x="350.04" y="369.99" width="6.40" height="1.60" fill="#1e1e24"/>
<rect x="356.14" y="334.94" width="5.40" height="35.46" fill="url(#gs)" stroke="#300808" stroke-width="1.0"/>
<rect x="355.64" y="334.44" width="6.40" height="4.75" fill="#1e1a2c" fill-opacity="0.58"/>
<line x1="355.64" x2="362.04" y1="338.69" y2="338.69" stroke="#15121e" stroke-width="1.1"/>
<line x1="355.84" x2="361.84" y1="335.24" y2="335.24" stroke="#15121e" stroke-width="1.6"/>
<line x1="358.84" x2="358.84" y1="329.69" y2="334.94" stroke="#151515" stroke-width="1.4"/>
<line x1="356.54" x2="361.14" y1="330.39" y2="330.39" stroke="#151515" stroke-width="1.7"/>
<rect x="361.74" y="336.97" width="5.40" height="33.43" fill="url(#ga)" stroke="#202c08" stroke-width="1.0"/>
<rect x="361.24" y="336.47" width="6.40" height="7.46" fill="#1e1a2c" fill-opacity="0.58"/>
<line x1="361.24" x2="367.64" y1="343.44" y2="343.44" stroke="#15121e" stroke-width="1.1"/>
<line x1="361.44" x2="367.44" y1="337.27" y2="337.27" stroke="#15121e" stroke-width="1.6"/>
<line x1="364.44" x2="364.44" y1="329.01" y2="336.97" stroke="#151515" stroke-width="1.4"/>
<line x1="362.14" x2="366.74" y1="329.71" y2="329.71" stroke="#151515" stroke-width="1.7"/>
<rect x="367.34" y="323.40" width="5.40" height="47.00" fill="url(#gc)" stroke="#1a1236" stroke-width="1.0"/>
<line x1="367.04" x2="373.04" y1="323.70" y2="323.70" stroke="#15121e" stroke-width="1.6"/>
<line x1="370.04" x2="370.04" y1="321.28" y2="323.40" stroke="#151515" stroke-width="1.4"/>
<line x1="367.74" x2="372.34" y1="321.98" y2="321.98" stroke="#151515" stroke-width="1.7"/>
<rect x="384.64" y="365.35" width="5.10" height="4.40" fill="#d05454" stroke="#1c1418" stroke-width="1.3"/>
<rect x="390.09" y="352.31" width="5.40" height="18.09" fill="url(#ga)" stroke="#202c08" stroke-width="1.0"/>
<line x1="389.79" x2="395.79" y1="352.61" y2="352.61" stroke="#15121e" stroke-width="1.6"/>
<line x1="392.79" x2="392.79" y1="349.77" y2="352.31" stroke="#151515" stroke-width="1.4"/>
<line x1="390.49" x2="395.09" y1="350.47" y2="350.47" stroke="#151515" stroke-width="1.7"/>
<rect x="395.69" y="353.94" width="5.40" height="16.46" fill="url(#gc)" stroke="#1a1236" stroke-width="1.0"/>
<line x1="395.39" x2="401.39" y1="354.24" y2="354.24" stroke="#15121e" stroke-width="1.6"/>
<line x1="398.39" x2="398.39" y1="351.81" y2="353.94" stroke="#151515" stroke-width="1.4"/>
<line x1="396.09" x2="400.69" y1="352.51" y2="352.51" stroke="#151515" stroke-width="1.7"/>
<rect x="413.00" y="366.57" width="5.10" height="3.18" fill="#d05454" stroke="#1c1418" stroke-width="1.3"/>
<rect x="418.45" y="338.33" width="5.40" height="32.07" fill="url(#ga)" stroke="#202c08" stroke-width="1.0"/>
<rect x="417.95" y="337.83" width="6.40" height="7.46" fill="#1e1a2c" fill-opacity="0.58"/>
<line x1="417.95" x2="424.35" y1="344.80" y2="344.80" stroke="#15121e" stroke-width="1.1"/>
<line x1="418.15" x2="424.15" y1="338.63" y2="338.63" stroke="#15121e" stroke-width="1.6"/>
<line x1="421.15" x2="421.15" y1="330.37" y2="338.33" stroke="#151515" stroke-width="1.4"/>
<line x1="418.85" x2="423.45" y1="331.07" y2="331.07" stroke="#151515" stroke-width="1.7"/>
<rect x="424.05" y="333.58" width="5.40" height="36.82" fill="url(#gc)" stroke="#1a1236" stroke-width="1.0"/>
<line x1="423.75" x2="429.75" y1="333.88" y2="333.88" stroke="#15121e" stroke-width="1.6"/>
<line x1="426.75" x2="426.75" y1="331.45" y2="333.58" stroke="#151515" stroke-width="1.4"/>
<line x1="424.45" x2="429.05" y1="332.15" y2="332.15" stroke="#151515" stroke-width="1.7"/>
<rect x="441.21" y="354.62" width="5.40" height="15.78" fill="url(#gs)" stroke="#300808" stroke-width="1.0"/>
<line x1="440.91" x2="446.91" y1="354.92" y2="354.92" stroke="#15121e" stroke-width="1.6"/>
<rect x="446.81" y="315.94" width="5.40" height="54.46" fill="url(#ga)" stroke="#202c08" stroke-width="1.0"/>
<line x1="446.51" x2="452.51" y1="316.24" y2="316.24" stroke="#15121e" stroke-width="1.6"/>
<rect x="452.41" y="350.82" width="5.40" height="19.58" fill="url(#gc)" stroke="#1a1236" stroke-width="1.0"/>
<rect x="451.91" y="350.32" width="6.40" height="4.75" fill="#1e1a2c" fill-opacity="0.58"/>
<line x1="451.91" x2="458.31" y1="354.57" y2="354.57" stroke="#15121e" stroke-width="1.1"/>
<line x1="452.11" x2="458.11" y1="351.12" y2="351.12" stroke="#15121e" stroke-width="1.6"/>
<line x1="455.11" x2="455.11" y1="345.57" y2="350.82" stroke="#151515" stroke-width="1.4"/>
<line x1="452.81" x2="457.41" y1="346.27" y2="346.27" stroke="#151515" stroke-width="1.7"/>
<rect x="469.56" y="360.45" width="5.40" height="9.95" fill="url(#gs)" stroke="#300808" stroke-width="1.0"/>
<line x1="469.26" x2="475.26" y1="360.75" y2="360.75" stroke="#15121e" stroke-width="1.6"/>
<rect x="475.16" y="343.76" width="5.40" height="26.64" fill="url(#ga)" stroke="#202c08" stroke-width="1.0"/>
<rect x="474.66" y="343.26" width="6.40" height="5.43" fill="#1e1a2c" fill-opacity="0.58"/>
<line x1="474.66" x2="481.06" y1="348.19" y2="348.19" stroke="#15121e" stroke-width="1.1"/>
<line x1="474.86" x2="480.86" y1="344.06" y2="344.06" stroke="#15121e" stroke-width="1.6"/>
<line x1="477.86" x2="477.86" y1="337.83" y2="343.76" stroke="#151515" stroke-width="1.4"/>
<line x1="475.56" x2="480.16" y1="338.53" y2="338.53" stroke="#151515" stroke-width="1.7"/>
<rect x="480.76" y="248.09" width="5.40" height="122.31" fill="url(#gc)" stroke="#1a1236" stroke-width="1.0"/>
<rect x="480.26" y="247.59" width="6.40" height="5.43" fill="#1e1a2c" fill-opacity="0.58"/>
<line x1="480.26" x2="486.66" y1="252.52" y2="252.52" stroke="#15121e" stroke-width="1.1"/>
<line x1="480.46" x2="486.46" y1="248.39" y2="248.39" stroke="#15121e" stroke-width="1.6"/>
<line x1="483.46" x2="483.46" y1="242.16" y2="248.09" stroke="#151515" stroke-width="1.4"/>
<line x1="481.16" x2="485.76" y1="242.86" y2="242.86" stroke="#151515" stroke-width="1.7"/>
<rect x="497.42" y="367.96" width="6.40" height="2.44" fill="#1e1e24"/>
<rect x="503.52" y="363.30" width="5.40" height="7.10" fill="url(#ga)" stroke="#202c08" stroke-width="1.0"/>
<line x1="503.22" x2="509.22" y1="363.60" y2="363.60" stroke="#15121e" stroke-width="1.6"/>
<rect x="509.12" y="350.27" width="5.40" height="20.13" fill="url(#gc)" stroke="#1a1236" stroke-width="1.0"/>
<rect x="508.62" y="349.77" width="6.40" height="4.75" fill="#1e1a2c" fill-opacity="0.58"/>
<line x1="508.62" x2="515.02" y1="354.02" y2="354.02" stroke="#15121e" stroke-width="1.1"/>
<line x1="508.82" x2="514.82" y1="350.57" y2="350.57" stroke="#15121e" stroke-width="1.6"/>
<line x1="511.82" x2="511.82" y1="345.02" y2="350.27" stroke="#151515" stroke-width="1.4"/>
<line x1="509.52" x2="514.12" y1="345.72" y2="345.72" stroke="#151515" stroke-width="1.7"/>
<line x1="319.4" x2="319.4" y1="234.1" y2="371.0" stroke="#2b2b2b" stroke-width="1.5"/>
<line x1="319.4" x2="517.9" y1="234.7" y2="234.7" stroke="#2b2b2b" stroke-width="1.3"/>
<line x1="517.9" x2="517.9" y1="234.7" y2="370.4" stroke="#2b2b2b" stroke-width="1.3"/>
<text x="333.58" y="395.0" font-size="10.5" text-anchor="middle" textLength="15.30" lengthAdjust="spacingAndGlyphs" fill="#222">pdt</text>
<text x="361.94" y="395.0" font-size="10.5" text-anchor="middle" textLength="20.61" lengthAdjust="spacingAndGlyphs" fill="#222">D28</text>
<text x="390.29" y="395.0" font-size="10.5" text-anchor="middle" textLength="20.61" lengthAdjust="spacingAndGlyphs" fill="#222">D34</text>
<text x="418.65" y="395.0" font-size="10.5" text-anchor="middle" textLength="20.61" lengthAdjust="spacingAndGlyphs" fill="#222">D41</text>
<text x="447.01" y="395.0" font-size="10.5" text-anchor="middle" textLength="20.61" lengthAdjust="spacingAndGlyphs" fill="#222">D48</text>
<text x="475.36" y="395.0" font-size="10.5" text-anchor="middle" textLength="16.63" lengthAdjust="spacingAndGlyphs" fill="#222">7M</text>
<text x="503.72" y="395.0" font-size="10.5" text-anchor="middle" textLength="16.63" lengthAdjust="spacingAndGlyphs" fill="#222">8M</text>
<rect x="303.90" y="404.15" width="5.0" height="5.0" rx="0.9" fill="url(#ru)" stroke="#141826" stroke-width="1.4"/>
<text x="313.40" y="411.7" font-size="11" textLength="33.90" lengthAdjust="spacingAndGlyphs" fill="#2a2a2a">unstim</text>
<rect x="357.90" y="404.15" width="5.0" height="5.0" rx="0.9" fill="url(#rs)" stroke="#141826" stroke-width="1.4"/>
<text x="366.80" y="411.7" font-size="11" textLength="19.80" lengthAdjust="spacingAndGlyphs" fill="#2a2a2a">stim</text>
<rect x="398.65" y="404.15" width="5.0" height="5.0" rx="0.9" fill="url(#ra)" stroke="#141826" stroke-width="1.4"/>
<text x="405.10" y="411.7" font-size="11" textLength="46.10" lengthAdjust="spacingAndGlyphs" fill="#2a2a2a">Ab block</text>
<rect x="463.90" y="404.15" width="5.0" height="5.0" rx="0.9" fill="url(#rc)" stroke="#141826" stroke-width="1.4"/>
<text x="470.40" y="411.7" font-size="11" textLength="33.30" lengthAdjust="spacingAndGlyphs" fill="#2a2a2a">costim</text>
</g></svg></body></html>
